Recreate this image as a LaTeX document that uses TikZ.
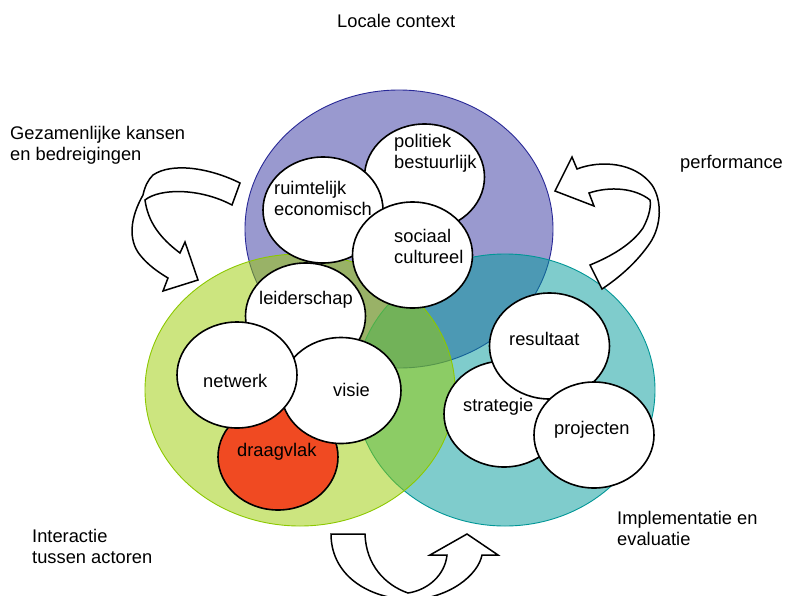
\documentclass[tikz,border=0pt]{standalone}
\usepackage{fontspec}
\setmainfont{Liberation Sans}
\usetikzlibrary{shapes.geometric}

\definecolor{ctxfill}{RGB}{51,51,160}
\definecolor{ctxedge}{RGB}{40,40,150}
\definecolor{actfill}{RGB}{153,204,0}
\definecolor{actedge}{RGB}{140,200,0}
\definecolor{impfill}{RGB}{0,153,153}
\definecolor{impedge}{RGB}{0,150,150}
\definecolor{support}{RGB}{240,74,34}

\newcommand{\lblfont}{\fontsize{18.3}{20.7}\selectfont}

% multi-line labels are placed by the baseline of their last line
\tikzset{
  zone/.style={line width=0.9pt, fill opacity=0.5},
  bubble/.style={ellipse, draw=black, fill=white, line width=1.6pt,
    minimum width=120pt, minimum height=106pt, inner sep=0pt},
  txt/.style={font=\lblfont, inner sep=0pt, anchor=base west, align=left},
  curvedarrow/.style={draw=black, fill=white, line width=1.5pt, line join=miter}
}

\begin{document}
\begin{tikzpicture}[x=1pt,y=-1pt]
\useasboundingbox (0,0) rectangle (785,595);
\begin{scope}
\clip (0,0) rectangle (785,595);

% three overlapping domains
\path[zone, draw=ctxedge, fill=ctxfill] (399,229) ellipse [x radius=154pt, y radius=139pt];
\path[zone, draw=impedge, fill=impfill] (505,390) ellipse [x radius=150pt, y radius=136pt];
\path[zone, draw=actedge, fill=actfill] (300,390) ellipse [x radius=155pt, y radius=136pt];

% local context bubbles
\node[bubble] (pol) at (424.5,177) {};
\node[bubble] (rui) at (323,210) {};
\node[bubble] (soc) at (412.5,255) {};

% actor bubbles
\node[bubble] (lei) at (305.5,316) {};
\node[bubble, fill=support] (dra) at (278,457) {};
\node[bubble] (vis) at (341,390.5) {};
\node[bubble] (net) at (237,375) {};

% implementation bubbles
\node[bubble] (str) at (504,414) {};
\node[bubble] (res) at (549.5,346) {};
\node[bubble] (pro) at (594,435) {};

% bubble labels
\node[txt] (tpol) at (394,168) {politiek\\bestuurlijk};
\node[txt] (trui) at (274,215.5) {ruimtelijk\\economisch};
\node[txt] (tsoc) at (394,263.5) {sociaal\\cultureel};
\node[txt] (tlei) at (259,304) {leiderschap};
\node[txt] (tnet) at (203,387) {netwerk};
\node[txt] (tvis) at (333,396) {visie};
\node[txt] (tdra) at (237,456) {draagvlak};
\node[txt] (tres) at (509,345) {resultaat};
\node[txt] (tstr) at (463,411) {strategie};
\node[txt] (tpro) at (554,434) {projecten};

% outer labels
\node[txt] (lctx) at (337,27) {Locale context};
\node[txt] (lkan) at (10,160.5) {Gezamenlijke kansen\\en bedreigingen};
\node[txt] (lper) at (680,168) {performance};
\node[txt] (lint) at (32,563) {Interactie\\tussen actoren};
\node[txt] (limp) at (617,545.5) {Implementatie en\\evaluatie};

% curved arrow, upper left
\path[curvedarrow] (240,183) .. controls (210,168) and (172,162) .. (153,175)
  .. controls (148,180) and (145,186) .. (143,195)
  .. controls (130,218) and (128,240) .. (140,255)
  .. controls (148,265) and (158,272) .. (168,278)
  -- (163,291) -- (198,280) -- (185,242) -- (180,253)
  .. controls (160,238) and (148,222) .. (145,200)
  .. controls (160,188) and (200,188) .. (232,205) -- cycle;

% curved arrow, upper right
\path[curvedarrow] (577,169) .. controls (600,160) and (635,162) .. (652,185)
  .. controls (662,200) and (662,225) .. (650,243)
  .. controls (637,262) and (620,277) .. (602,289)
  -- (590,265)
  .. controls (612,256) and (632,244) .. (643,228)
  .. controls (650,215) and (651,205) .. (650,200)
  .. controls (635,188) and (610,186) .. (589,193)
  -- (594,206) -- (555,191) -- (572,157) -- cycle;

% curved arrow, bottom
\path[curvedarrow] (331,534) .. controls (331,570) and (360,597) .. (410,600)
  .. controls (450,598) and (478,575) .. (482,555)
  -- (498,555) -- (467,534) -- (430,555) -- (447,555)
  .. controls (445,575) and (428,590) .. (408,593)
  .. controls (385,585) and (366,565) .. (365,534) -- cycle;

\end{scope}
\end{tikzpicture}
\end{document}
